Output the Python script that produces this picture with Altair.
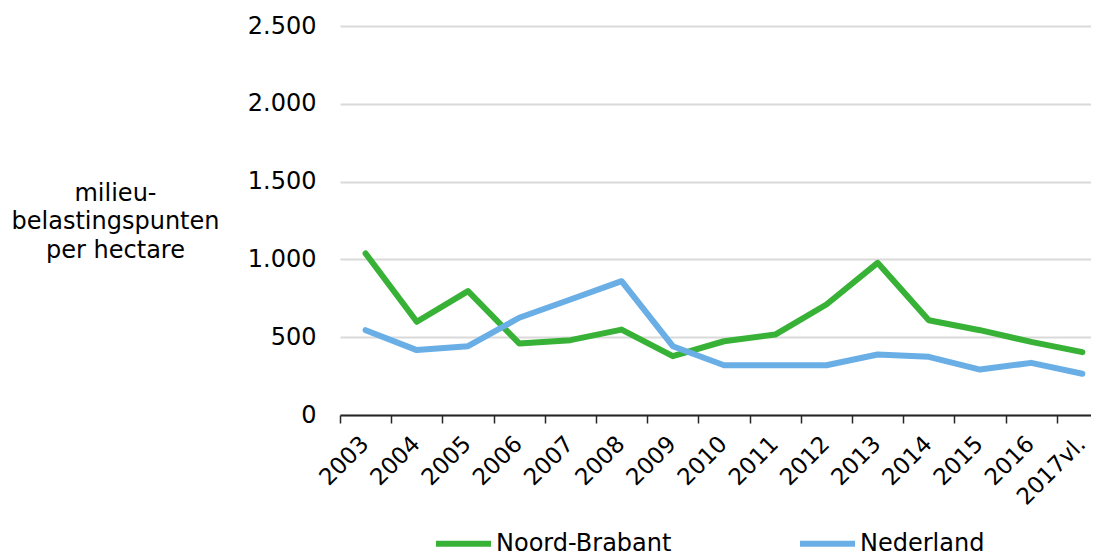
import altair as alt
import pandas as pd

years = ["2003", "2004", "2005", "2006", "2007", "2008", "2009", "2010",
         "2011", "2012", "2013", "2014", "2015", "2016", "2017vl."]
noord_brabant = [1038, 599, 796, 460, 481, 549, 378, 474, 517, 710, 978, 609, 545, 470, 404]
nederland = [545, 417, 442, 625, 742, 860, 442, 320, 320, 320, 389, 374, 292, 335, 265]
series = ["Noord-Brabant", "Nederland"]
colors = ["#38b236", "#6aaee6"]
y_title = ["milieu-", "belastingspunten", "per hectare"]

rows = []
for name, vals in zip(series, [noord_brabant, nederland]):
    for yr, v in zip(years, vals):
        rows.append({"jaar": yr, "reeks": name, "waarde": v})
df = pd.DataFrame(rows)

FONT = "DejaVu Sans"
FS = 24

chart = alt.Chart(df).mark_line(strokeWidth=6, strokeCap="round", strokeJoin="round").encode(
    x=alt.X("jaar:N", sort=years, bandPosition=0.5,
            scale=alt.Scale(type="band", range=[0, 768], paddingInner=0, paddingOuter=0),
            axis=alt.Axis(title=None, labelAngle=-45, labelAlign="right", labelBaseline="middle",
                          labelFontSize=23, labelFont=FONT, labelColor="#000000",
                          labelPadding=17, labelOffset=-1, tickBand="extent",
                          tickSize=8, tickColor="#262626", tickWidth=1.5,
                          domainColor="#262626", domainWidth=2, grid=False)),
    y=alt.Y("waarde:Q",
            scale=alt.Scale(domain=[0, 2500], nice=False),
            axis=alt.Axis(title=y_title, values=[0, 500, 1000, 1500, 2000, 2500],
                          labelExpr="replace(format(datum.value, ','), ',', '.')",
                          labelFontSize=FS, labelFont=FONT, labelColor="#000000",
                          labelPadding=24, ticks=False, tickSize=0, domain=False,
                          grid=True, gridColor="#d9d9d9", gridWidth=2,
                          titleAngle=0, titleAlign="center", titleBaseline="middle",
                          titleX=-225, titleY=167, titleFont=FONT, titleFontSize=FS,
                          titleFontWeight="normal", titleColor="#000000", titleLineHeight=28.5)),
    color=alt.Color("reeks:N", sort=series,
                    scale=alt.Scale(domain=series, range=colors),
                    legend=alt.Legend(title=None, orient="none", direction="horizontal",
                                      legendX=93, legendY=487, padding=0,
                                      symbolType="stroke", symbolSize=3025, symbolStrokeWidth=6,
                                      labelFontSize=FS, labelFont=FONT, labelColor="#000000",
                                      labelLimit=400, labelOffset=2, columnPadding=116)),
).properties(
    width=751, height=389,
    autosize=alt.AutoSizeParams(type="none"),
    padding={"left": 332, "top": 18, "right": 0, "bottom": 143},
).configure_view(stroke=None)

chart.save("out.html", embed_options={"renderer": "svg", "actions": False})
